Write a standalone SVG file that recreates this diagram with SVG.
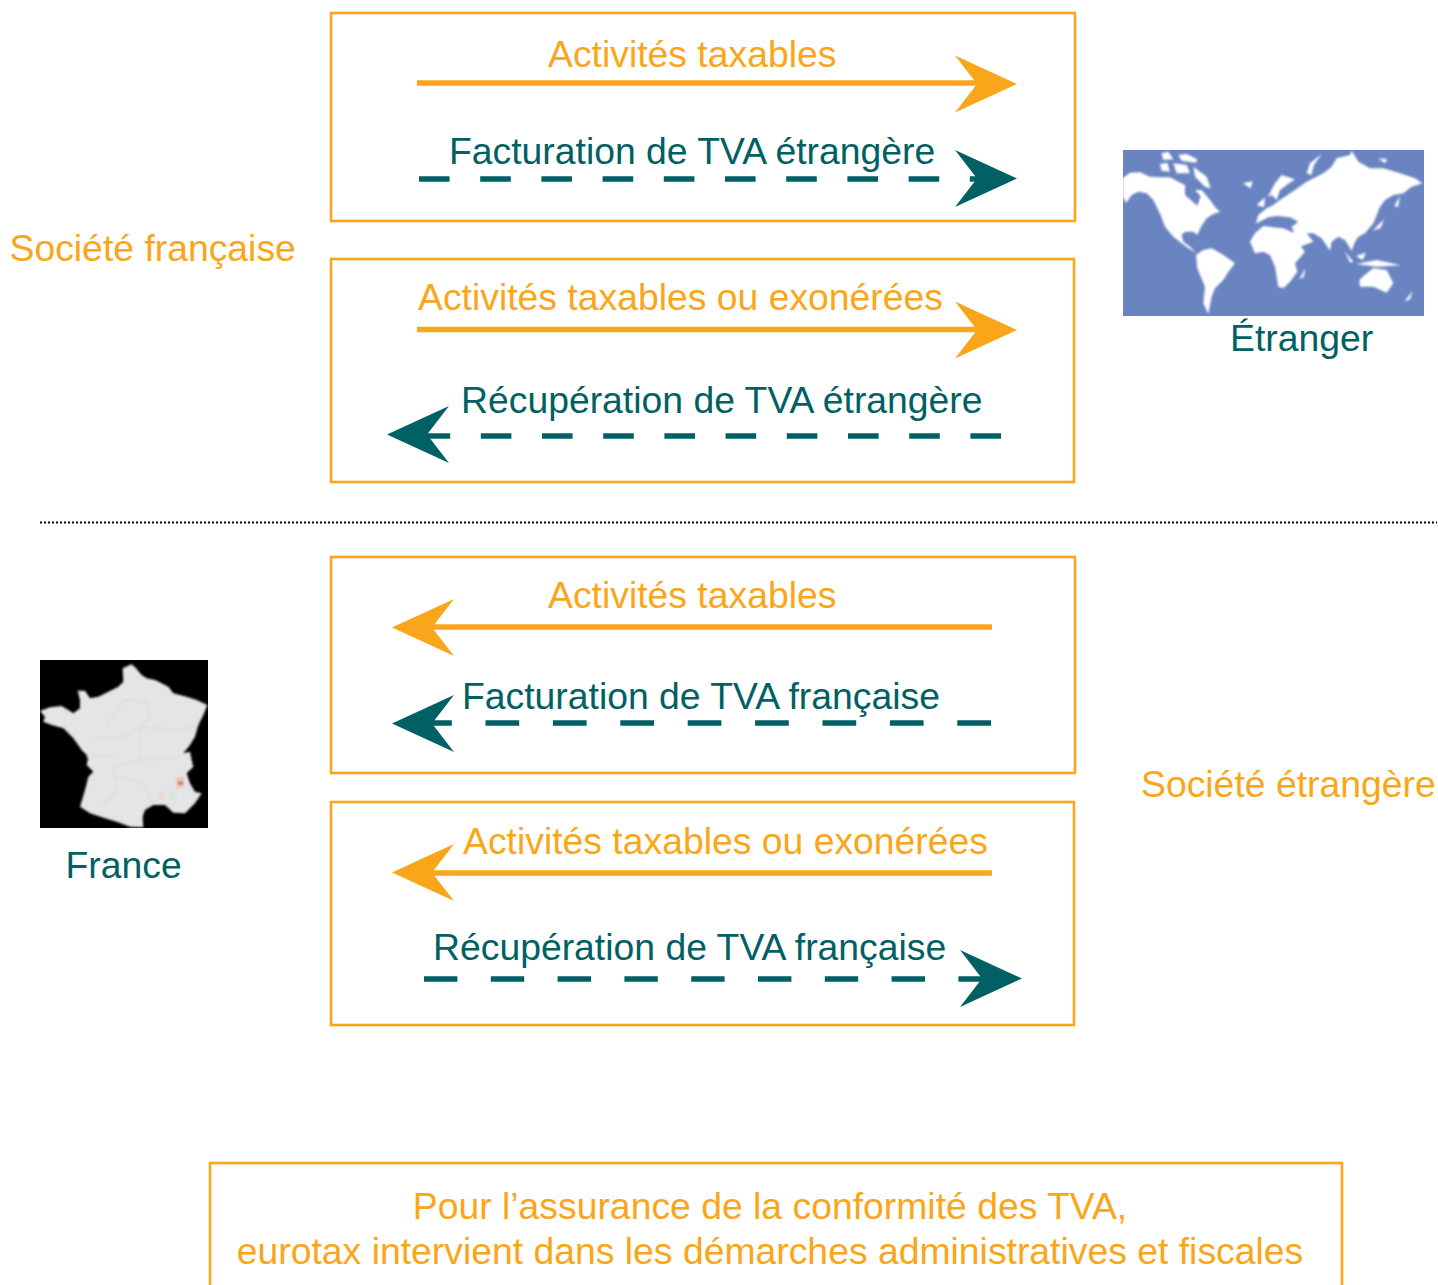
<svg xmlns="http://www.w3.org/2000/svg" width="1438" height="1285" viewBox="0 0 1438 1285">
<defs>
<style>
text{font-family:"Liberation Sans",Arial,sans-serif;font-size:37.33px}
.o{fill:#faa61a}.t{fill:#006064}
.box{fill:none;stroke:#faa61a;stroke-width:2.6}
.ol{stroke:#faa61a;stroke-width:5.4;fill:none}
.tl{stroke:#006064;stroke-width:5.4;fill:none}
</style>
<filter id="soft" x="-5%" y="-5%" width="110%" height="110%"><feGaussianBlur stdDeviation="3.5"/></filter>
<filter id="soft2" x="-5%" y="-5%" width="110%" height="110%"><feGaussianBlur stdDeviation="2.5"/></filter>
<clipPath id="wclip"><rect x="1123" y="150" width="301" height="166"/></clipPath>
<clipPath id="fclip"><rect x="40" y="660" width="168" height="168"/></clipPath>
<path id="hr" d="M0 0L-62 -28.500L-40 0L-62 28.500Z"/>
</defs>
<g id="background"><rect width="1438" height="1285" fill="#fff"/></g>
<g id="box1"><rect class="box" x="331" y="13" width="744" height="208"/>
<text class="o" x="548" y="67">Activités taxables</text>
<text class="t" x="449" y="164">Facturation de TVA étrangère</text></g>
<g id="box2"><rect class="box" x="331" y="259" width="743" height="223"/>
<text class="o" x="418" y="310">Activités taxables ou exonérées</text>
<text class="t" x="461" y="413">Récupération de TVA étrangère</text></g>
<g id="box3"><rect class="box" x="331" y="557" width="744" height="216"/>
<text class="o" x="548" y="608">Activités taxables</text>
<text class="t" x="462" y="709">Facturation de TVA française</text></g>
<g id="box4"><rect class="box" x="331" y="802" width="743" height="223"/>
<text class="o" x="463" y="854">Activités taxables ou exonérées</text>
<text class="t" x="433" y="960">Récupération de TVA française</text></g>
<g id="box5"><rect class="box" x="210" y="1163" width="1132" height="140"/>
<text class="o" x="770" y="1219" text-anchor="middle">Pour l’assurance de la conformité des TVA,</text>
<text class="o" x="770" y="1264" text-anchor="middle">eurotax intervient dans les démarches administratives et fiscales</text></g>
<g id="societe-francaise"><text class="o" x="9.500" y="261">Société française</text></g>
<g id="societe-etrangere"><text class="o" x="1141" y="797">Société étrangère</text></g>
<g id="etranger">
<rect x="1123" y="150" width="301" height="166" fill="#6a84c2"/>
<g clip-path="url(#wclip)"><g transform="translate(1110 140) scale(.33333)" fill="#fff" filter="url(#soft)">
<path d="M38 115L60 98L90 97L120 110L150 112L180 112L205 125L225 135L225 165L245 182L262 197L272 168L255 150L275 150L300 180L318 205L330 215L310 222L290 235L272 262L262 285L250 275L225 275L215 285L220 305L240 320L258 338L235 325L215 310L190 290L165 260L152 225L130 180L110 160L85 155L65 165L48 188L38 170Z"/>
<path d="M150 72L172 68L180 95L155 92Z"/><path d="M190 70L230 75L240 100L200 100Z"/><path d="M250 80L290 110L302 145L285 140L270 125L255 110Z"/>
<path d="M155 40L175 35L190 58L160 60Z"/><path d="M205 45L230 42L262 58L258 68L215 62Z"/>
<path d="M258 345L280 330L305 325L340 345L375 370L355 395L340 420L315 445L305 470L295 522L280 490L285 440L262 385Z"/>
<path d="M420 305L435 280L460 258L490 262L520 265L555 280L565 310L585 335L555 370L562 395L540 425L520 445L505 440L495 380L480 345L460 335L435 340Z"/>
<path d="M438 250L445 225L470 205L490 195L510 180L555 150L590 125L640 100L665 80L680 55L720 45L725 32L745 65L780 85L820 85L870 100L915 115L937 130L905 140L880 160L850 165L825 180L810 200L800 225L790 250L765 280L745 290L735 305L725 332L705 300L685 290L665 305L660 332L635 295L610 280L590 280L610 305L570 320L555 285L545 260L565 245L540 232L500 228L475 232L440 250Z"/>
<path d="M473 172L495 130L515 105L555 118L530 135L510 150L500 180L485 165Z"/>
<path d="M590 100L600 70L635 42L612 75L604 105Z"/>
<path d="M748 420L770 400L790 385L830 390L850 430L830 458L790 440L750 440Z"/>
<path d="M883 485L908 452L900 478Z"/><path d="M568 418L586 385L582 410Z"/>
<path d="M788 272L822 238L812 264Z"/><path d="M853 198L870 168L864 202Z"/>
<path d="M440 195L465 172L462 202Z"/><path d="M398 130L428 124L422 145Z"/>
<path d="M738 372L800 360L872 376L800 380Z"/><path d="M705 335L730 365L720 368Z"/><path d="M738 348L768 338L758 360Z"/><path d="M805 55L832 58L825 70Z"/>
</g></g>
<text class="t" x="1230" y="351">Étranger</text></g>
<g id="france">
<rect x="40" y="660" width="168" height="168" fill="#000"/>
<g clip-path="url(#fclip)"><g transform="translate(30 650) scale(.33333)" filter="url(#soft2)">
<path fill="#e4e5e6" d="M30 183L60 172L95 168L115 180L130 190L150 175L150 150L143 122L165 122L180 145L205 140L235 125L265 110L280 95L278 55L305 43L318 55L335 75L350 85L375 90L395 100L415 110L430 130L470 140L500 150L532 165L520 195L505 225L495 260L480 285L460 310L480 305L485 330L490 350L470 370L480 400L495 425L515 430L495 460L465 490L430 488L405 465L370 465L345 480L338 500L340 532L300 530L260 515L225 505L180 490L150 470L165 420L175 380L190 365L170 345L175 320L155 300L130 265L100 235L65 225L40 215L45 200Z"/>
<path fill="none" stroke="#dcdedf" stroke-width="6" d="M190 262L280 262L330 230L440 240L505 225M280 150L350 155L360 200L330 230L330 330L250 350L260 420L220 465M170 320L250 320M330 330L450 320M280 150L230 230M260 380L340 400L370 465"/>
<path fill="#f8c4b0" d="M436 383L462 378L462 412L440 414Z"/><path fill="#8f8280" d="M444 395L459 395L459 404L444 404Z"/><path fill="#f4d2c4" d="M386 426L400 426L400 450L386 450Z"/><path fill="#d6e4dc" d="M415 425L440 425L440 450L415 450Z"/>
</g></g>
<text class="t" x="65.500" y="878">France</text></g>
<g id="connectors">
<path class="ol" d="M417 83H985"/><use href="#hr" class="o" transform="translate(1017 84)"/>
<path class="tl" d="M419 179H985" stroke-dasharray="30.6 30.6"/><use href="#hr" class="t" transform="translate(1017 178.500)"/>
<path class="ol" d="M417 329.500H985"/><use href="#hr" class="o" transform="translate(1017 330)"/>
<path class="tl" d="M1001 436H425" stroke-dasharray="30.6 30.6"/><use href="#hr" class="t" transform="translate(387 434.500) rotate(180)"/>
<path class="ol" d="M992 627H425"/><use href="#hr" class="o" transform="translate(392 627.500) rotate(180)"/>
<path class="tl" d="M991 723H425" stroke-dasharray="33.700 33.700"/><use href="#hr" class="t" transform="translate(392 723.500) rotate(180)"/>
<path class="ol" d="M992 873H425"/><use href="#hr" class="o" transform="translate(392 872.500) rotate(180)"/>
<path class="tl" d="M424 979H990" stroke-dasharray="33.400 33.400"/><use href="#hr" class="t" transform="translate(1022 978.500)"/>
<path fill="none" stroke="#000" stroke-width="2" stroke-dasharray="2 2" d="M40 522.500H1437"/>
</g>
</svg>
